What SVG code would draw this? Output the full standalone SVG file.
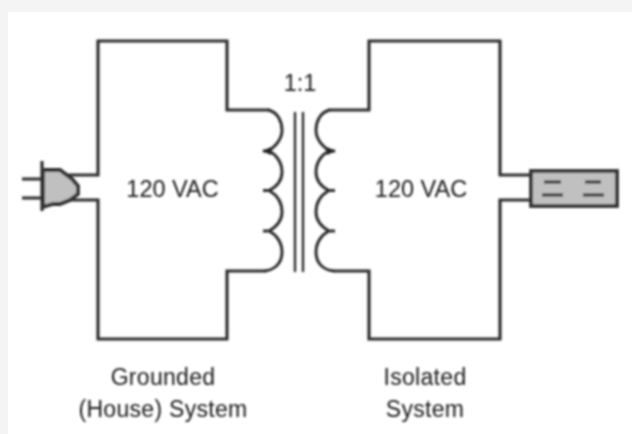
<svg xmlns="http://www.w3.org/2000/svg" width="632" height="434" viewBox="0 0 632 434">
<style>
.w{fill:none;stroke:#2e2e2e;stroke-width:3.200}
.c{fill:none;stroke:#2e2e2e;stroke-width:3}
.b{fill:#c0c0c0;stroke:#333;stroke-width:3.800}
.t{font-family:"Liberation Sans",Arial,sans-serif;font-size:23.500px;fill:#1a1a1a;text-anchor:middle}
.s{font-size:23px;letter-spacing:.3px}
</style>
<defs><filter id="soft" x="-5%" y="-5%" width="110%" height="110%"><feGaussianBlur stdDeviation="0.85"/></filter></defs>
<rect width="632" height="434" fill="#f4f4f4"/>
<rect x="8" y="12" width="624" height="422" fill="#fff"/>
<g filter="url(#soft)">
<g id="connectors">
<path class="w" d="M62 175H98V41H227V110H270"/>
<path class="w" d="M62 200H98V339H227V271H266"/>
<path class="w" d="M328 110H369V41H500V175H530"/>
<path class="w" d="M333 271H369V339H500V200H530"/>
</g>
<g id="coil-primary"><path class="c" d="M268 110C278 112 282 122 282 130C282 140 275 146 269 151L263 151L269 151C277 155 282 163 282 172C282 181 276 187 269 190.500L263 190.500L269 190.500C277 195 282 203 282 212C282 221 276 227 269 231L263 231L269 231C277 235 282 243 282 252C282 262 276 270 264 271"/><path d="M262 151L271 147L271 155Z" fill="#222"/></g>
<g id="core"><path class="c" d="M295 112V272M303 112V272" style="stroke-width:2.400"/></g>
<g id="coil-secondary"><path class="c" d="M330 110C320 112 316 122 316 130C316 140 323 146 329 151L335 151L329 151C321 155 316 163 316 172C316 181 322 187 329 190.500L335 190.500L329 190.500C321 195 316 203 316 212C316 221 322 227 329 231L335 231L329 231C321 235 316 243 316 252C316 262 322 270 334 271"/><path d="M336 151L327 147L327 155Z" fill="#222"/></g>
<g id="plug">
<path class="w" d="M22 179H42M22 198H42M42 161V211"/>
<path class="b" d="M43 170H60L72 179L78 186V194L70 200L60 204H53L43 207Z"/>
</g>
<g id="socket">
<rect class="b" x="531" y="171" width="86" height="35"/>
<path class="w" d="M544 182H561M585 182H601M542 195H563M583 195H604" style="stroke-width:3"/>
</g>
<g id="label-ratio"><text class="t" x="300" y="91">1:1</text></g>
<g id="label-left"><text class="t" x="172.500" y="197">120 VAC</text></g>
<g id="label-right"><text class="t" x="421" y="197">120 VAC</text></g>
<g id="label-grounded"><text class="t s" x="163" y="385">Grounded</text><text class="t s" x="163" y="417">(House) System</text></g>
<g id="label-isolated"><text class="t s" x="425" y="385">Isolated</text><text class="t s" x="425" y="417">System</text></g>
</g>
</svg>
